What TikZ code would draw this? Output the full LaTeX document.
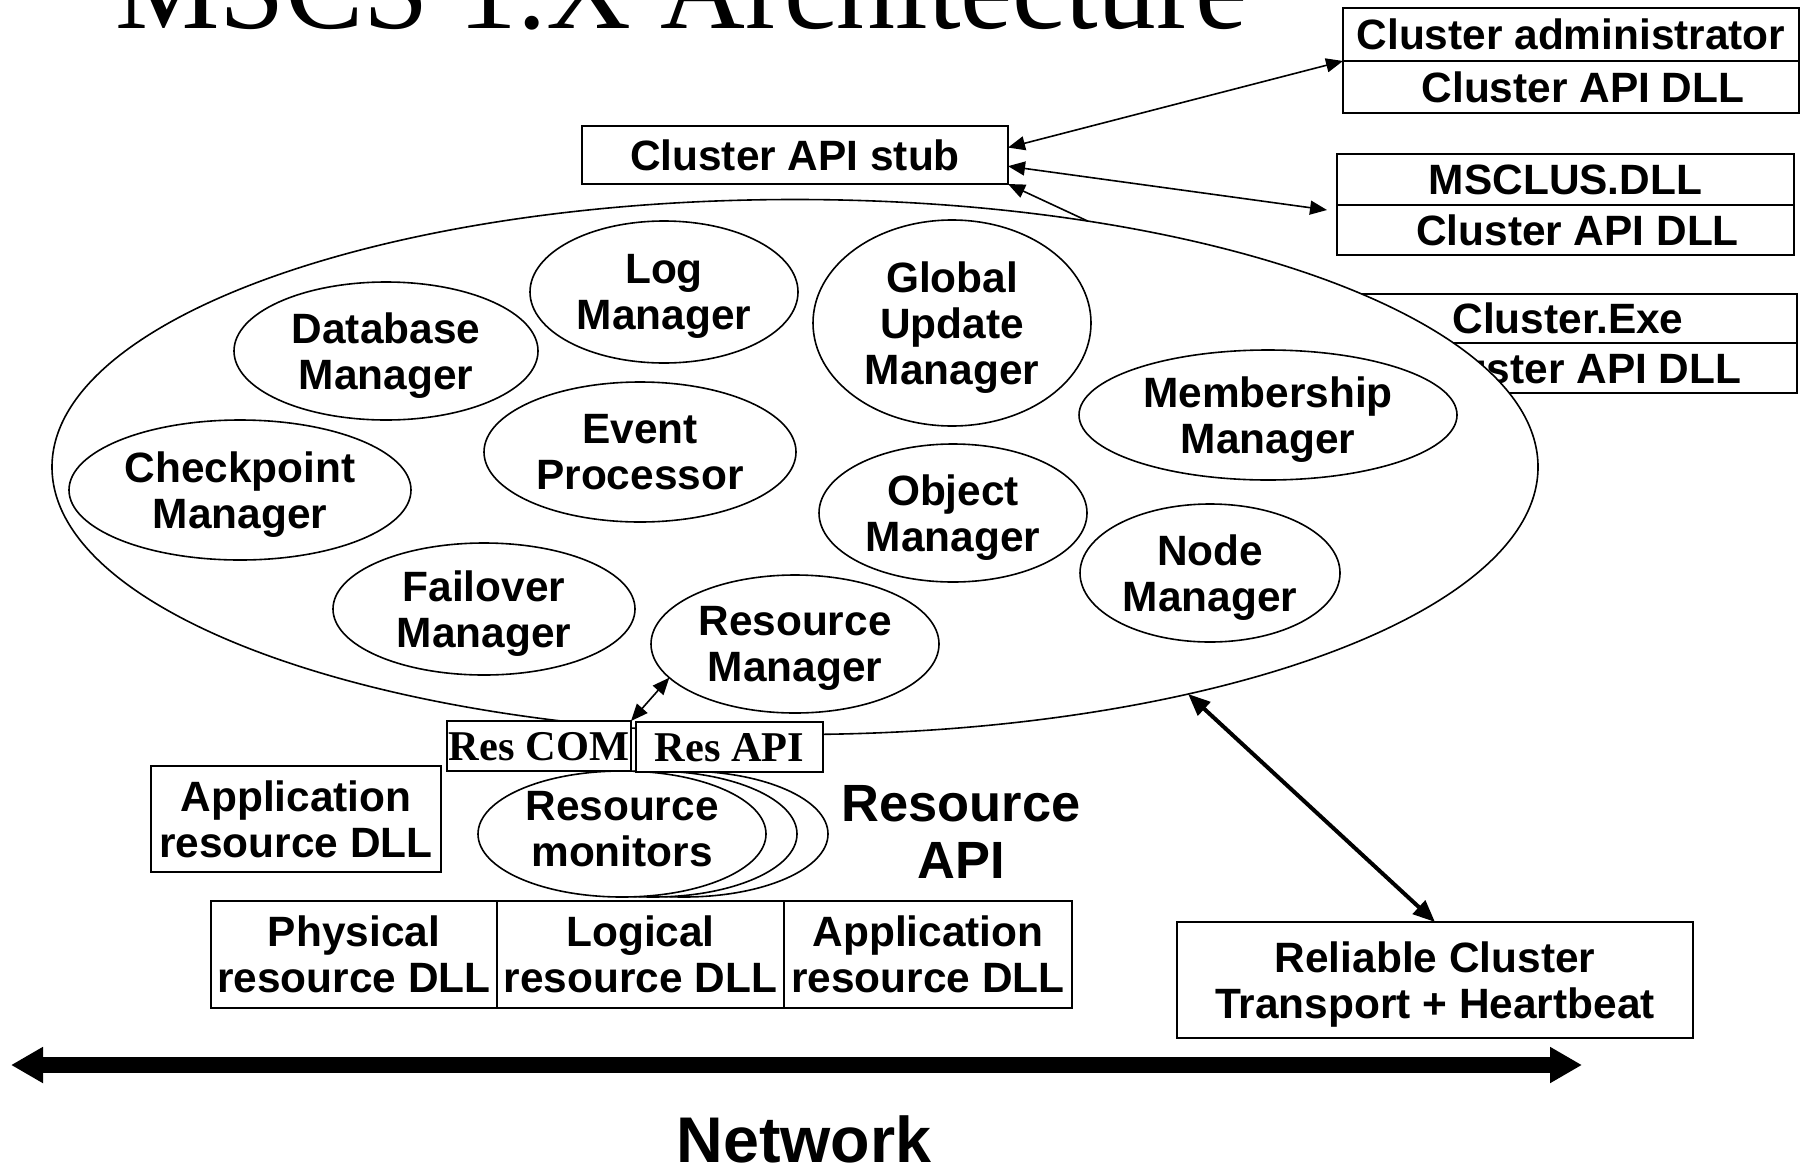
\documentclass[tikz,border=0pt]{standalone}
\usepackage{fontspec}
\setmainfont{Liberation Sans}
\newfontfamily\titleserif{Liberation Serif}
\usetikzlibrary{arrows.meta,shapes.geometric,calc}
\begin{document}
\begin{tikzpicture}[x=0.5pt,y=-0.5pt,
  lbl/.style={font=\fontsize{21.2}{23}\selectfont\bfseries, align=center, inner sep=0pt, outer sep=0pt, text depth=0pt},
  rbox/.style={lbl, draw, line width=1pt, fill=white, rectangle},
  oval/.style={lbl, draw, line width=0.8pt, fill=white, ellipse},
  serifbox/.style={rbox, font=\titleserif\bfseries\fontsize{21.2}{23}\selectfont},
  conn/.style={line width=0.8pt, >={Triangle[length=8.5pt,width=7pt]}},
  thickconn/.style={line width=2pt, >={Triangle[length=11pt,width=9pt]}},
  netarrow/.style={line width=8pt, {Triangle[length=16pt,width=17pt]}-{Triangle[length=16pt,width=17pt]}}
]
\useasboundingbox (0,0) rectangle (1807,1167);

% title (cut off at the top edge)
\node[anchor=base west, inner sep=0pt, font=\titleserif\fontsize{58.75}{60}\selectfont] (title) at (115,28) {MSCS 1.X Architecture};

% Cluster.Exe group (partly hidden behind the core ellipse)
\node[rbox, minimum width=229pt, minimum height=24.5pt] (exe) at (1568,318.5) {Cluster.Exe};
\node[rbox, minimum width=229pt, minimum height=25pt] (exedll) at (1568,368) {\hspace*{12pt}Cluster API DLL};

% core ellipse
\node[oval, minimum width=743pt, minimum height=267.5pt] (core) at (795,467) {};

% managers
\node[oval, minimum width=134pt, minimum height=71pt] (log) at (664,292) {Log\\Manager};
\node[oval, minimum width=152pt, minimum height=69pt] (db) at (386,351) {Database\\Manager};
\node[oval, minimum width=139pt, minimum height=103pt] (gum) at (952,323) {Global\\Update\\Manager};
\node[oval, minimum width=156pt, minimum height=70pt] (ep) at (640,452) {Event\\Processor};
\node[oval, minimum width=189pt, minimum height=65pt] (mem) at (1268,415) {Membership\\Manager};
\node[oval, minimum width=171pt, minimum height=70pt] (cp) at (240,490) {Checkpoint\\Manager};
\node[oval, minimum width=134pt, minimum height=69pt] (om) at (953,513) {Object\\Manager};
\node[oval, minimum width=130pt, minimum height=69pt] (nm) at (1210,573) {Node\\Manager};
\node[oval, minimum width=151pt, minimum height=66pt] (fm) at (484,609) {Failover\\Manager};
\node[oval, minimum width=144pt, minimum height=69pt] (rm) at (795,644) {Resource\\Manager};

% top boxes
\node[rbox, minimum width=213pt, minimum height=29pt] (stub) at (795,155) {Cluster API stub};
\node[rbox, minimum width=228pt, minimum height=26.5pt] (adm) at (1571,34.5) {Cluster administrator};
\node[rbox, minimum width=228pt, minimum height=26pt] (admdll) at (1571,87) {\hspace*{12pt}Cluster API DLL};
\node[rbox, minimum width=228.5pt, minimum height=25.5pt] (msclus) at (1565.5,179.5) {MSCLUS.DLL};
\node[rbox, minimum width=228.5pt, minimum height=25pt] (msdll) at (1565.5,230) {\hspace*{12pt}Cluster API DLL};

% resource monitors (stacked)
\node[oval, minimum width=144pt, minimum height=63pt] (mon3) at (684,834) {};
\node[oval, minimum width=144pt, minimum height=63pt] (mon2) at (653,834) {};
\node[oval, minimum width=144pt, minimum height=63pt, text depth=5pt] (mon1) at (622,834) {Resource\\monitors};

% Res COM / Res API
\node[serifbox, minimum width=92pt, minimum height=25pt] (rescom) at (539,746) {Res COM};
\node[serifbox, minimum width=93.5pt, minimum height=25pt] (resapi) at (729.5,747) {Res API};

% lower boxes
\node[rbox, minimum width=145pt, minimum height=53pt] (appl) at (296,819) {Application\\resource DLL};
\node[lbl, font=\bfseries\fontsize{26.2}{28.5}\selectfont] (resapitxt) at (961,831.5) {Resource\\API};
\node[rbox, minimum width=143pt, minimum height=53.5pt] (phys) at (354,954.5) {Physical\\resource DLL};
\node[rbox, minimum width=143.5pt, minimum height=53.5pt] (logi) at (640.5,954.5) {Logical\\resource DLL};
\node[rbox, minimum width=144pt, minimum height=53.5pt] (appb) at (928,954.5) {Application\\resource DLL};
\node[rbox, minimum width=258pt, minimum height=58pt] (rel) at (1435,980) {Reliable Cluster\\Transport + Heartbeat};

% network
\coordinate (netL) at (11,1065);
\coordinate (netR) at (1582,1065);
\draw[netarrow] (netL) -- (netR);
\node[lbl, font=\bfseries\fontsize{32.3}{34}\selectfont, anchor=base] (net) at (804,1162) {Network};

% connectors
\draw[conn, <->] (stub.2) -- (adm.south west);
\draw[conn, <->] (stub.-3) -- ($(msclus.south west)+(-10,5)$);
\draw[conn, ->] (core.40) -- (stub.south east);
\draw[conn, <->] (rescom.north east) -- (rm.195);
\draw[thickconn, <->] (core.-30) -- (rel.north);
\end{tikzpicture}
\end{document}
